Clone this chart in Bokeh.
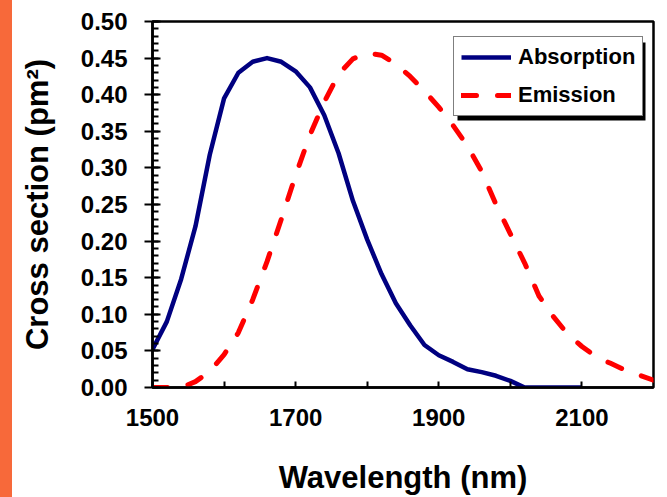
from bokeh.plotting import figure
from bokeh.models import (Range1d, Legend, LegendItem, FixedTicker, SingleIntervalTicker,
                          PrintfTickFormatter, BoxAnnotation, Div)
from bokeh.layouts import row
from bokeh.embed import file_html
from bokeh.resources import INLINE

# ---- data ----
abs_wl = [1500, 1520, 1540, 1560, 1580, 1600, 1620, 1640, 1660, 1680, 1700, 1720, 1740,
          1760, 1780, 1800, 1820, 1840, 1860, 1880, 1900, 1920, 1940, 1960, 1980, 2000,
          2020, 2040, 2060, 2080, 2100]
abs_val = [0.052, 0.090, 0.148, 0.220, 0.318, 0.395, 0.430, 0.445, 0.450, 0.445, 0.432,
           0.410, 0.372, 0.320, 0.255, 0.202, 0.155, 0.115, 0.085, 0.058, 0.044, 0.035,
           0.025, 0.021, 0.016, 0.009, 0.0, 0.0, 0.0, 0.0, 0.0]

em_wl = [1500, 1520, 1540, 1560, 1580, 1600, 1620, 1640, 1660, 1680, 1700, 1720, 1740,
         1760, 1780, 1800, 1820, 1840, 1860, 1880, 1900, 1920, 1940, 1960, 1980, 2000,
         2020, 2040, 2060, 2080, 2100, 2120, 2140, 2160, 2180, 2200]
em_val = [0.0, 0.0, 0.0, 0.008, 0.022, 0.045, 0.075, 0.120, 0.172, 0.230, 0.290, 0.345,
          0.390, 0.428, 0.449, 0.457, 0.454, 0.442, 0.425, 0.405, 0.383, 0.358, 0.330,
          0.295, 0.250, 0.210, 0.170, 0.125, 0.097, 0.073, 0.056, 0.042, 0.033, 0.024,
          0.017, 0.010]

x_major = [1500, 1700, 1900, 2100]
x_minor = [1600, 1800, 2000]

FONT = "Liberation Sans"

p = figure(width=655, height=497, output_backend="svg", toolbar_location=None,
           x_range=Range1d(1500, 2200), y_range=Range1d(0, 0.5),
           min_border_left=140, min_border_right=14, min_border_top=21,
           min_border_bottom=107, margin=0)
p.xgrid.visible = False
p.ygrid.visible = False
p.outline_line_color = "black"
p.outline_line_width = 2.5
p.background_fill_color = "white"
p.border_fill_color = "white"

r1 = p.line(abs_wl, abs_val, line_color="#000080", line_width=4.5, line_join="round")
r2 = p.line(em_wl, em_val, line_color="#FF0000", line_width=5, line_dash="15 21",
            line_cap="round", line_join="round")

# x axis
xa = p.xaxis[0]
xa.ticker = FixedTicker(ticks=x_major, minor_ticks=x_minor)
xa.axis_label = "Wavelength (nm)"
xa.axis_label_text_font = FONT
xa.axis_label_text_font_style = "bold"
xa.axis_label_text_font_size = "31px"
xa.axis_label_standoff = 31
xa.major_label_text_font = FONT
xa.major_label_text_font_style = "bold"
xa.major_label_text_font_size = "24px"
xa.major_label_standoff = 21
xa.major_tick_in = 6
xa.major_tick_out = 0
xa.minor_tick_in = 6
xa.minor_tick_out = 0
xa.axis_line_width = 2.5
xa.major_tick_line_width = 2
xa.minor_tick_line_width = 2
xa.axis_line_color = "black"
xa.major_label_text_color = "black"
xa.axis_label_text_color = "black"

# y axis
ya = p.yaxis[0]
ya.ticker = SingleIntervalTicker(interval=0.05, num_minor_ticks=5)
ya.formatter = PrintfTickFormatter(format="%.2f")
ya.axis_label = "Cross section (pm\u00b2)"
ya.axis_label_text_font = FONT
ya.axis_label_text_font_style = "bold"
ya.axis_label_text_font_size = "31px"
ya.axis_label_standoff = 23
ya.major_label_text_font = FONT
ya.major_label_text_font_style = "bold"
ya.major_label_text_font_size = "24px"
ya.major_label_standoff = 17
ya.major_tick_in = 8
ya.major_tick_out = 8
ya.minor_tick_in = 6
ya.minor_tick_out = 0
ya.axis_line_width = 2.5
ya.major_tick_line_width = 2
ya.minor_tick_line_width = 2
ya.axis_line_color = "black"
ya.major_label_text_color = "black"
ya.axis_label_text_color = "black"

# legend shadow (decoration) then legend
p.add_layout(BoxAnnotation(left=305, right=493, bottom=267, top=345,
                           left_units="screen", right_units="screen",
                           bottom_units="screen", top_units="screen",
                           fill_color="black", fill_alpha=1.0, line_alpha=0))

legend = Legend(items=[LegendItem(label="Absorption", renderers=[r1]),
                       LegendItem(label="Emission", renderers=[r2])],
                location=(301, 271), orientation="vertical",
                glyph_width=50, glyph_height=20, label_standoff=7,
                padding=7, spacing=12, margin=0,
                label_text_font=FONT, label_text_font_style="bold",
                label_text_font_size="22px", label_text_color="black",
                background_fill_color="white", background_fill_alpha=1.0,
                border_line_color="black", border_line_width=1.5)
p.add_layout(legend, "center")

strip = Div(width=12, height=497, margin=0,
            styles={"background-color": "#F7693A"})
layout = row(strip, p, spacing=0)

open("out.html", "w").write(file_html(layout, INLINE))
